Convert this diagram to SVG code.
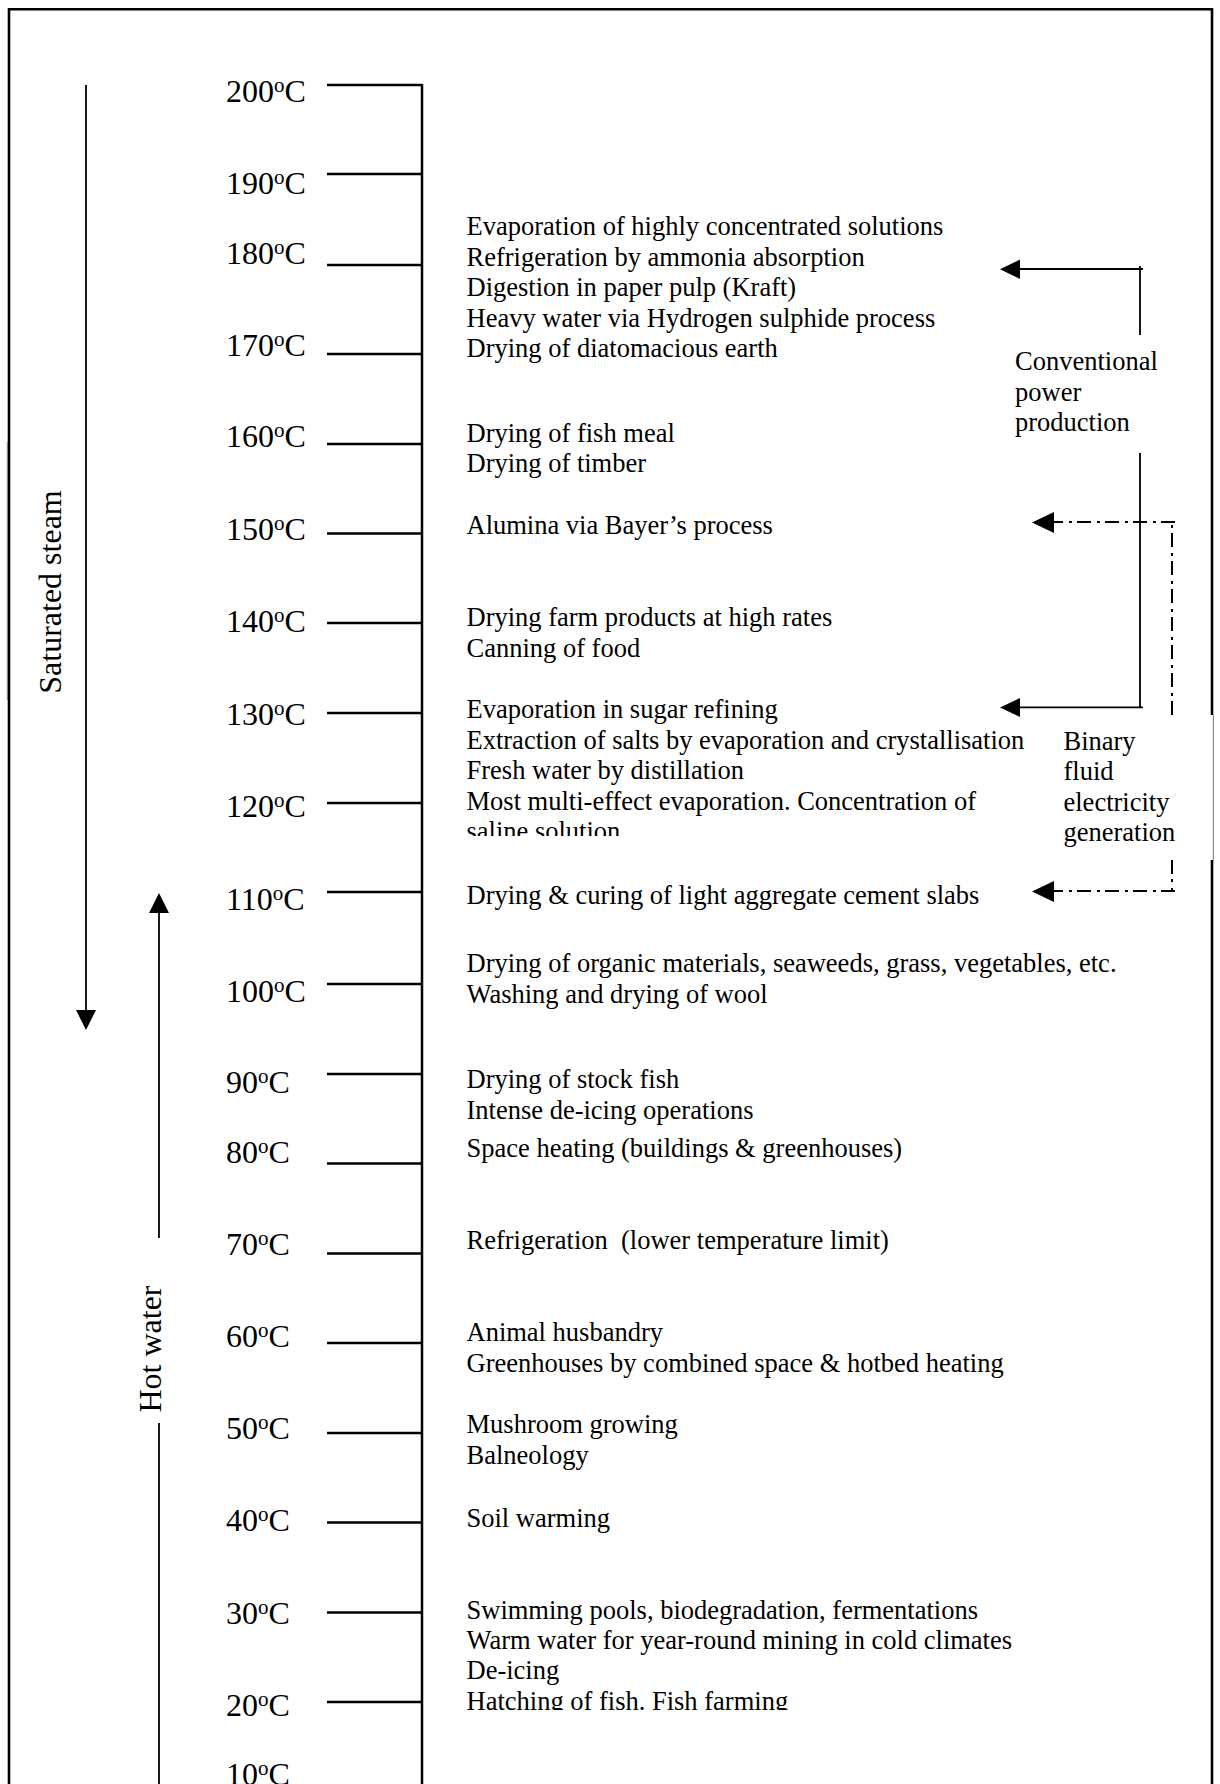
<svg xmlns="http://www.w3.org/2000/svg" width="1220" height="1784" viewBox="0 0 1220 1784">
<style>
text{font-family:"Liberation Serif","Times New Roman",serif;fill:#000}
.lab{font-size:32px}
.sup{font-size:21px}
.app{font-size:26.5px}
.note{font-size:26.5px}
.side{font-size:32px}
.tick{stroke:#000;stroke-width:2.5;fill:none}
.axis{stroke:#000;stroke-width:2.5;fill:none}
.frame{stroke:#000;stroke-width:2.6;fill:none}
.thin{stroke:#777;stroke-width:1;fill:none}
.solid{stroke:#000;stroke-width:1.8;fill:none}
.dashdot{stroke:#000;stroke-width:2;fill:none;stroke-dasharray:14 5 3 6}
.head{fill:#000;stroke:none}
</style>
<defs>
<clipPath id="clipSaline"><rect x="400" y="790" width="700" height="46"/></clipPath>
<clipPath id="clipHatch"><rect x="400" y="1660" width="700" height="50"/></clipPath>
</defs>
<rect width="1220" height="1784" fill="#fff"/>

<g id="frame">
<path class="frame" d="M9,1784 V442 M9,700 V9.3 H1212 V715 M1212,860 V1784"/>
<path class="thin" d="M7.3,442 V700 M1213.3,715 V860"/>
</g>

<g id="axis">
<line class="axis" x1="422" y1="84" x2="422" y2="1784"/>
</g>

<g id="t200"><line class="tick" x1="327" y1="85" x2="422" y2="85"/><text class="lab" x="226" y="101.7">200<tspan class="sup" dy="-10">o</tspan><tspan dy="10">C</tspan></text></g>
<g id="t190"><line class="tick" x1="327" y1="174" x2="422" y2="174"/><text class="lab" x="226" y="194">190<tspan class="sup" dy="-10">o</tspan><tspan dy="10">C</tspan></text></g>
<g id="t180"><line class="tick" x1="327" y1="265" x2="422" y2="265"/><text class="lab" x="226" y="263.5">180<tspan class="sup" dy="-10">o</tspan><tspan dy="10">C</tspan></text></g>
<g id="t170"><line class="tick" x1="327" y1="354" x2="422" y2="354"/><text class="lab" x="226" y="355.5">170<tspan class="sup" dy="-10">o</tspan><tspan dy="10">C</tspan></text></g>
<g id="t160"><line class="tick" x1="327" y1="444" x2="422" y2="444"/><text class="lab" x="226" y="447">160<tspan class="sup" dy="-10">o</tspan><tspan dy="10">C</tspan></text></g>
<g id="t150"><line class="tick" x1="327" y1="533.5" x2="422" y2="533.5"/><text class="lab" x="226" y="540">150<tspan class="sup" dy="-10">o</tspan><tspan dy="10">C</tspan></text></g>
<g id="t140"><line class="tick" x1="327" y1="623" x2="422" y2="623"/><text class="lab" x="226" y="632">140<tspan class="sup" dy="-10">o</tspan><tspan dy="10">C</tspan></text></g>
<g id="t130"><line class="tick" x1="327" y1="713" x2="422" y2="713"/><text class="lab" x="226" y="724.5">130<tspan class="sup" dy="-10">o</tspan><tspan dy="10">C</tspan></text></g>
<g id="t120"><line class="tick" x1="327" y1="803" x2="422" y2="803"/><text class="lab" x="226" y="816.5">120<tspan class="sup" dy="-10">o</tspan><tspan dy="10">C</tspan></text></g>
<g id="t110"><line class="tick" x1="327" y1="892" x2="422" y2="892"/><text class="lab" x="226" y="910">110<tspan class="sup" dy="-10">o</tspan><tspan dy="10">C</tspan></text></g>
<g id="t100"><line class="tick" x1="327" y1="984" x2="422" y2="984"/><text class="lab" x="226" y="1002">100<tspan class="sup" dy="-10">o</tspan><tspan dy="10">C</tspan></text></g>
<g id="t90"><line class="tick" x1="327" y1="1074" x2="422" y2="1074"/><text class="lab" x="226" y="1093">90<tspan class="sup" dy="-10">o</tspan><tspan dy="10">C</tspan></text></g>
<g id="t80"><line class="tick" x1="327" y1="1163.5" x2="422" y2="1163.5"/><text class="lab" x="226" y="1162.5">80<tspan class="sup" dy="-10">o</tspan><tspan dy="10">C</tspan></text></g>
<g id="t70"><line class="tick" x1="327" y1="1253.5" x2="422" y2="1253.5"/><text class="lab" x="226" y="1255">70<tspan class="sup" dy="-10">o</tspan><tspan dy="10">C</tspan></text></g>
<g id="t60"><line class="tick" x1="327" y1="1343" x2="422" y2="1343"/><text class="lab" x="226" y="1347">60<tspan class="sup" dy="-10">o</tspan><tspan dy="10">C</tspan></text></g>
<g id="t50"><line class="tick" x1="327" y1="1433" x2="422" y2="1433"/><text class="lab" x="226" y="1439">50<tspan class="sup" dy="-10">o</tspan><tspan dy="10">C</tspan></text></g>
<g id="t40"><line class="tick" x1="327" y1="1522.5" x2="422" y2="1522.5"/><text class="lab" x="226" y="1531">40<tspan class="sup" dy="-10">o</tspan><tspan dy="10">C</tspan></text></g>
<g id="t30"><line class="tick" x1="327" y1="1612.5" x2="422" y2="1612.5"/><text class="lab" x="226" y="1623.5">30<tspan class="sup" dy="-10">o</tspan><tspan dy="10">C</tspan></text></g>
<g id="t20"><line class="tick" x1="327" y1="1702" x2="422" y2="1702"/><text class="lab" x="226" y="1715.5">20<tspan class="sup" dy="-10">o</tspan><tspan dy="10">C</tspan></text></g>
<g id="t10"><text class="lab" x="226" y="1785">10<tspan class="sup" dy="-10">o</tspan><tspan dy="10">C</tspan></text></g>

<g id="apps180">
<text class="app" x="466.5" y="235">Evaporation of highly concentrated solutions</text>
<text class="app" x="466.5" y="265.5">Refrigeration by ammonia absorption</text>
<text class="app" x="466.5" y="296">Digestion in paper pulp (Kraft)</text>
<text class="app" x="466.5" y="326.5">Heavy water via Hydrogen sulphide process</text>
<text class="app" x="466.5" y="357">Drying of diatomacious earth</text>
</g>
<g id="apps160">
<text class="app" x="466.5" y="441.5">Drying of fish meal</text>
<text class="app" x="466.5" y="472">Drying of timber</text>
</g>
<g id="apps150"><text class="app" x="466.5" y="534">Alumina via Bayer’s process</text></g>
<g id="apps140">
<text class="app" x="466.5" y="626">Drying farm products at high rates</text>
<text class="app" x="466.5" y="656.5">Canning of food</text>
</g>
<g id="apps130">
<text class="app" x="466.5" y="718">Evaporation in sugar refining</text>
<text class="app" x="466.5" y="748.5">Extraction of salts by evaporation and crystallisation</text>
<text class="app" x="466.5" y="779">Fresh water by distillation</text>
<text class="app" x="466.5" y="809.5">Most multi-effect evaporation. Concentration of</text>
<text class="app" x="466.5" y="840" clip-path="url(#clipSaline)">saline solution</text>
</g>
<g id="apps110"><text class="app" x="466.5" y="904">Drying &amp; curing of light aggregate cement slabs</text></g>
<g id="apps100">
<text class="app" x="466.5" y="972">Drying of organic materials, seaweeds, grass, vegetables, etc.</text>
<text class="app" x="466.5" y="1002.5">Washing and drying of wool</text>
</g>
<g id="apps90">
<text class="app" x="466.5" y="1087.5">Drying of stock fish</text>
<text class="app" x="466.5" y="1118.5">Intense de-icing operations</text>
</g>
<g id="apps80"><text class="app" x="466.5" y="1156.5">Space heating (buildings &amp; greenhouses)</text></g>
<g id="apps70"><text class="app" x="466.5" y="1248.5" style="white-space:pre" xml:space="preserve">Refrigeration  (lower temperature limit)</text></g>
<g id="apps60">
<text class="app" x="466.5" y="1341">Animal husbandry</text>
<text class="app" x="466.5" y="1371.5">Greenhouses by combined space &amp; hotbed heating</text>
</g>
<g id="apps50">
<text class="app" x="466.5" y="1433">Mushroom growing</text>
<text class="app" x="466.5" y="1463.5">Balneology</text>
</g>
<g id="apps40"><text class="app" x="466.5" y="1526.5">Soil warming</text></g>
<g id="apps30">
<text class="app" x="466.5" y="1618.5">Swimming pools, biodegradation, fermentations</text>
<text class="app" x="466.5" y="1648.5">Warm water for year-round mining in cold climates</text>
<text class="app" x="466.5" y="1678.8">De-icing</text>
<text class="app" x="466.5" y="1709.5" clip-path="url(#clipHatch)">Hatching of fish. Fish farming</text>
</g>

<g id="conventional">
<text class="note" x="1015" y="370">Conventional</text>
<text class="note" x="1015" y="400.5">power</text>
<text class="note" x="1015" y="431">production</text>
</g>
<g id="binary">
<text class="note" x="1063.5" y="749.5">Binary</text>
<text class="note" x="1063.5" y="780">fluid</text>
<text class="note" x="1063.5" y="810.5">electricity</text>
<text class="note" x="1063.5" y="841">generation</text>
</g>
<g id="saturated">
<text class="side" transform="translate(61,592) rotate(-90)" text-anchor="middle">Saturated steam</text>
</g>
<g id="hotwater">
<text class="side" transform="translate(161,1349) rotate(-90)" text-anchor="middle">Hot water</text>
</g>

<g id="connectors">
<line class="solid" x1="86" y1="85" x2="86" y2="1012"/>
<polygon class="head" points="76,1010 96,1010 86,1030"/>
<line class="solid" x1="159" y1="1238" x2="159" y2="911"/>
<line class="solid" x1="159" y1="1423" x2="159" y2="1784"/>
<polygon class="head" points="149,913 169,913 159,893"/>
<path class="solid" d="M1140,335 V266 M1143,269 H1018"/>
<polygon class="head" points="1020,259.5 1020,279 1000,269.3"/>
<path class="solid" d="M1140,453 V707 M1143,707.3 H1018"/>
<polygon class="head" points="1020,698 1020,717 1000,707.5"/>
<path class="dashdot" d="M1172,715 V522 M1175,522 H1052"/>
<polygon class="head" points="1054,512 1054,533 1032,522.5"/>
<path class="dashdot" d="M1172,860 V891 M1175,891 H1052"/>
<polygon class="head" points="1054,881 1054,902 1032,891.5"/>
</g>
</svg>
